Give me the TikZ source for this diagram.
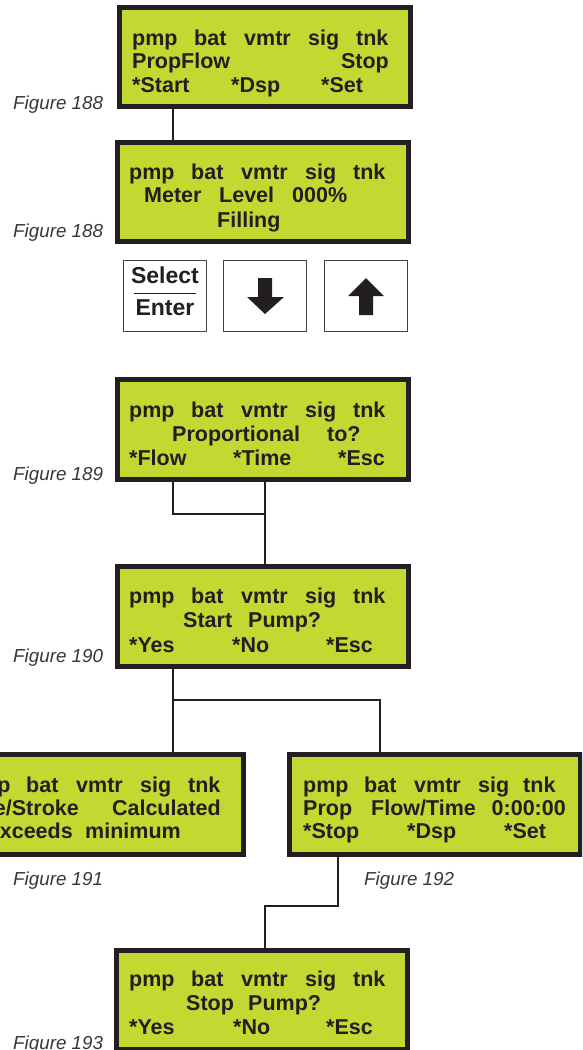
\documentclass[tikz,border=0pt]{standalone}
\usepackage{fontspec}
\setmainfont{Liberation Sans}
\definecolor{lcdfill}{RGB}{195,216,48}
\definecolor{ink}{RGB}{35,31,32}
\definecolor{capgray}{RGB}{55,55,55}
\tikzset{
  lcd/.style={draw=ink, line width=5pt, fill=lcdfill, minimum width=291pt, minimum height=99.5pt, inner sep=0pt},
  lt/.style={anchor=base west, inner sep=0pt, text=ink, font=\fontsize{21.5}{21.5}\selectfont\bfseries},
  lte/.style={lt, anchor=base east},
  figlbl/.style={anchor=base west, inner sep=0pt, text=capgray, font=\fontsize{18.8}{19}\selectfont\itshape},
  keybox/.style={draw=ink!85, line width=1pt, fill=white, minimum width=83pt, minimum height=71pt, inner sep=0pt},
  keytxt/.style={anchor=base, inner sep=0pt, text=ink, font=\fontsize{23}{23}\selectfont\bfseries},
  wire/.style={draw=ink, line width=1.4pt},
}
\newcommand\lw[4]{\node[lt] (#1) at (#2,#3) {#4};}
\newcommand\lwe[4]{\node[lte] (#1) at (#2,#3) {#4};}
\begin{document}
\begin{tikzpicture}[x=1pt,y=-1pt]
\useasboundingbox (0,0) rectangle (582,1050);
\clip (0,0) rectangle (582,1050);

% helper coordinates
\coordinate (c173) at (173,0);
\coordinate (c265) at (265,0);
\coordinate (c380) at (380,0);
\coordinate (j1) at (173,514);
\coordinate (j2) at (173,700);
\coordinate (j3) at (338,906);

% boxes
\node[lcd] (b1) at (265,57) {};
\node[lcd] (b2) at (262.5,192) {};
\node[lcd] (b3) at (262.5,429.5) {};
\node[lcd] (b4) at (262.5,616.5) {};
\node[lcd] (b5) at (98,804.5) {};
\node[lcd] (b6) at (435,804.5) {};
\node[lcd] (b7) at (262,1000) {};

% connectors
\draw[wire] (b1.south -| c173) -- (b2.north -| c173);
\draw[wire] (b3.south -| j1) -- (j1) -- (j1 -| c265);
\draw[wire] (b3.south -| c265) -- (b4.north -| c265);
\draw[wire] (b4.south -| c173) -- (b5.north -| c173);
\draw[wire] (j2) -| (b6.north -| c380);
\draw[wire] (b6.south -| j3) -- (j3) -| (b7.north -| c265);

% box 1
\lw{a1}{132}{45}{pmp}\lw{a2}{194}{45}{bat}\lw{a3}{244}{45}{vmtr}\lw{a4}{308}{45}{sig}\lw{a5}{356}{45}{tnk}
\lw{a6}{132}{68}{PropFlow}\lwe{a7}{389}{68}{Stop}
\lw{a8}{132}{92}{*Start}\lw{a9}{231}{92}{*Dsp}\lw{a10}{321}{92}{*Set}

% box 2
\lw{d1}{129}{179}{pmp}\lw{d2}{191}{179}{bat}\lw{d3}{241}{179}{vmtr}\lw{d4}{305}{179}{sig}\lw{d5}{353}{179}{tnk}
\lw{d6}{144}{202}{Meter}\lw{d7}{219}{202}{Level}\lw{d8}{292}{202}{000\%}
\lw{d9}{217}{227}{Filling}

% box 3
\lw{e1}{129}{417}{pmp}\lw{e2}{191}{417}{bat}\lw{e3}{241}{417}{vmtr}\lw{e4}{305}{417}{sig}\lw{e5}{353}{417}{tnk}
\lw{e6}{172}{441}{Proportional}\lw{e7}{327}{441}{to?}
\lw{e8}{129}{465}{*Flow}\lw{e9}{233}{465}{*Time}\lw{e10}{338}{465}{*Esc}

% box 4
\lw{f1}{129}{603}{pmp}\lw{f2}{191}{603}{bat}\lw{f3}{241}{603}{vmtr}\lw{f4}{305}{603}{sig}\lw{f5}{353}{603}{tnk}
\lw{f6}{183}{627}{Start}\lw{f7}{248}{627}{Pump?}
\lw{f8}{129}{652}{*Yes}\lw{f9}{232}{652}{*No}\lw{f10}{326}{652}{*Esc}

% box 5
\lw{g1}{-35}{792}{pmp}\lw{g2}{26}{792}{bat}\lw{g3}{76}{792}{vmtr}\lw{g4}{140}{792}{sig}\lw{g5}{188}{792}{tnk}
\lwe{g6}{79}{815}{Volume/Stroke}\lwe{g7}{221}{815}{Calculated}
\lwe{g8}{73}{838}{Exceeds}\lw{g9}{85}{838}{minimum}

% box 6
\lw{h1}{303}{792}{pmp}\lw{h2}{364}{792}{bat}\lw{h3}{414}{792}{vmtr}\lw{h4}{478}{792}{sig}\lw{h5}{523}{792}{tnk}
\lw{h6}{303}{815}{Prop}\lw{h7}{371}{815}{Flow/Time}\lwe{h8}{566}{815}{0:00:00}
\lw{h9}{303}{838}{*Stop}\lw{h10}{407}{838}{*Dsp}\lw{h11}{504}{838}{*Set}

% box 7
\lw{k1}{129}{986}{pmp}\lw{k2}{191}{986}{bat}\lw{k3}{241}{986}{vmtr}\lw{k4}{305}{986}{sig}\lw{k5}{353}{986}{tnk}
\lw{k6}{186}{1010}{Stop}\lw{k7}{248}{1010}{Pump?}
\lw{k8}{129}{1034}{*Yes}\lw{k9}{233}{1034}{*No}\lw{k10}{326}{1034}{*Esc}

% figure labels
\node[figlbl] (l1) at (13,109) {Figure 188};
\node[figlbl] (l2) at (13,237) {Figure 188};
\node[figlbl] (l3) at (13,480) {Figure 189};
\node[figlbl] (l4) at (13,662) {Figure 190};
\node[figlbl] (l5) at (13,885) {Figure 191};
\node[figlbl] (l6) at (364,885) {Figure 192};
\node[figlbl] (l7) at (13,1049) {Figure 193};

% keys
\node[keybox] (ksel) at (165,296) {};
\node[keybox] (kdown) at (265,296) {};
\node[keybox] (kup) at (366,296) {};
\node[keytxt] (tsel) at (165,283) {Select};
\node[keytxt] (tent) at (165,315) {Enter};
\draw[ink, line width=1pt] (134,293) -- (196,293);
\fill[ink] (258,278) -- (272,278) -- (272,297) -- (284,297) -- (265,314) -- (247,297) -- (258,297) -- cycle;
\fill[ink] (366,278) -- (384,296) -- (373,296) -- (373,315) -- (359,315) -- (359,296) -- (348,296) -- cycle;
\end{tikzpicture}
\end{document}
